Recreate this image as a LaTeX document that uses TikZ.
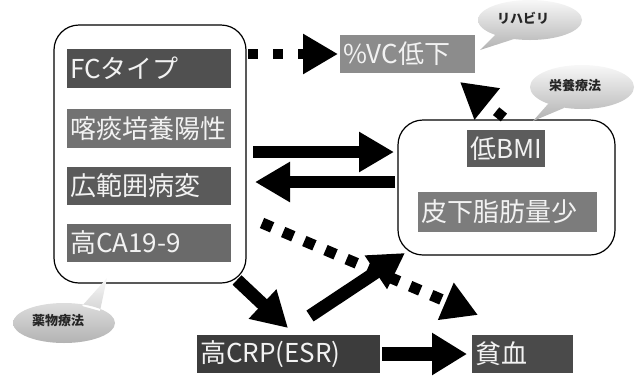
\documentclass[tikz,border=0pt]{standalone}
\usepackage{fontspec}
\setmainfont{Noto Sans CJK JP}
\usetikzlibrary{arrows.meta,calc}
\definecolor{cA}{HTML}{505050}
\definecolor{cB}{HTML}{727272}
\definecolor{cC}{HTML}{5A5A5A}
\definecolor{cD}{HTML}{6A6A6A}
\definecolor{cVC}{HTML}{8C8C8C}
\definecolor{cBMI}{HTML}{5C5C5C}
\definecolor{cFat}{HTML}{7C7C7C}
\definecolor{cCRP}{HTML}{3C3C3C}
\definecolor{cAn}{HTML}{4A4A4A}
\definecolor{txt}{HTML}{F2F2F2}
\begin{document}
\begin{tikzpicture}[x=1pt,y=-1pt,
  lbl/.style={fill=#1, text=txt, font=\fontsize{26pt}{30pt}\selectfont,
    inner xsep=3pt, inner ysep=0pt, outer sep=0pt, anchor=north west, align=left},
  container/.style={draw=black, line width=1.2pt, rounded corners=25pt,
    anchor=north west, inner sep=0pt, outer sep=0pt},
  fat/.style={line width=12pt, -{Triangle[length=35pt,width=38pt]}},
  dots/.style={line width=10pt, dash pattern=on 10pt off 14pt, -{Triangle[length=35pt,width=38pt]}},
  bubtext/.style={font=\fontsize{13pt}{15pt}\selectfont\bfseries, text=black!85},
  bubshade/.style={top color=gray!6, bottom color=gray!60}]
\useasboundingbox (0,0) rectangle (637,376);

% containers
\node[container, minimum width=192pt, minimum height=258pt] (L) at (54,25) {};
\node[container, minimum width=217pt, minimum height=135pt] (R) at (398,120) {};

% labels
\node[lbl=cA, minimum height=39pt, text width=158pt] (fc) at (67,49) {FCタイプ};
\node[lbl=cB, minimum height=39pt, text width=158pt] (sp) at (67,109) {喀痰培養陽性};
\node[lbl=cC, minimum height=38pt, text width=158pt] (wd) at (67,167) {広範囲病変};
\node[lbl=cD, minimum height=38pt, text width=158pt] (ca) at (67,224) {高CA19-9};
\node[lbl=cVC, minimum height=38pt, text width=129pt] (VC) at (340,35) {\%VC低下};
\node[lbl=cBMI, minimum height=37pt, text width=72pt] (BMI) at (467,130) {低BMI};
\node[lbl=cFat, minimum height=40pt, text width=173pt] (fat) at (418,192) {皮下脂肪量少};
\node[lbl=cCRP, minimum height=38pt, text width=177pt] (CRP) at (197,335) {高CRP(ESR)};
\node[lbl=cAn, minimum height=38pt, text width=95pt] (An) at (472,335) {貧血};

% bubbles
\shade[bubshade] (497,33) -- (480,50) -- (514,39) -- cycle
  (530,20) ellipse [x radius=52pt, y radius=20pt];
\node[bubtext] (b1) at (523,18) {リハビリ};
\shade[bubshade] (548,104) -- (533,121) -- (564,108) -- cycle
  (582,87) ellipse [x radius=52pt, y radius=22pt];
\node[bubtext] (b2) at (575,86) {栄養療法};
\shade[bubshade] (82,306) -- (107,278) -- (100,311) -- cycle
  (64,323) ellipse [x radius=51pt, y radius=20pt];
\node[bubtext] (b3) at (58,321) {薬物療法};

% connector end points
\coordinate (a3s) at (253,152);
\coordinate (a3e) at (394,152);
\coordinate (a4s) at (395,182);
\coordinate (a4e) at (255,182);
\coordinate (a5s) at (262,223);
\coordinate (a5e) at (478,315);
\coordinate (a6s) at (237,280);
\coordinate (a6e) at (288,328);
\coordinate (a7s) at (310,316);
\coordinate (a7e) at (405,253);
\coordinate (a2s) at (507,120);
\coordinate (a2e) at (460,82);

% arrows
\draw[dots, dash pattern=on 10pt off 15pt] ([xshift=2pt]L.east |- VC.west) -- ([xshift=-2pt]VC.west);
\draw[dots, dash pattern=on 10pt off 20pt, dash phase=-4pt] (a2s) -- (a2e);
\draw[fat] (a3s) -- (a3e);
\draw[fat] (a4s) -- (a4e);
\draw[dots, line width=11pt, dash pattern=on 11pt off 12pt] (a5s) -- (a5e);
\draw[fat, line width=13pt] (a6s) -- (a6e);
\draw[fat, line width=13pt] (a7s) -- (a7e);
\draw[fat, line width=14pt, -{Triangle[length=35pt,width=40pt]}] ([xshift=2pt]CRP.east) -- ([xshift=-5pt]An.west);
\end{tikzpicture}
\end{document}
